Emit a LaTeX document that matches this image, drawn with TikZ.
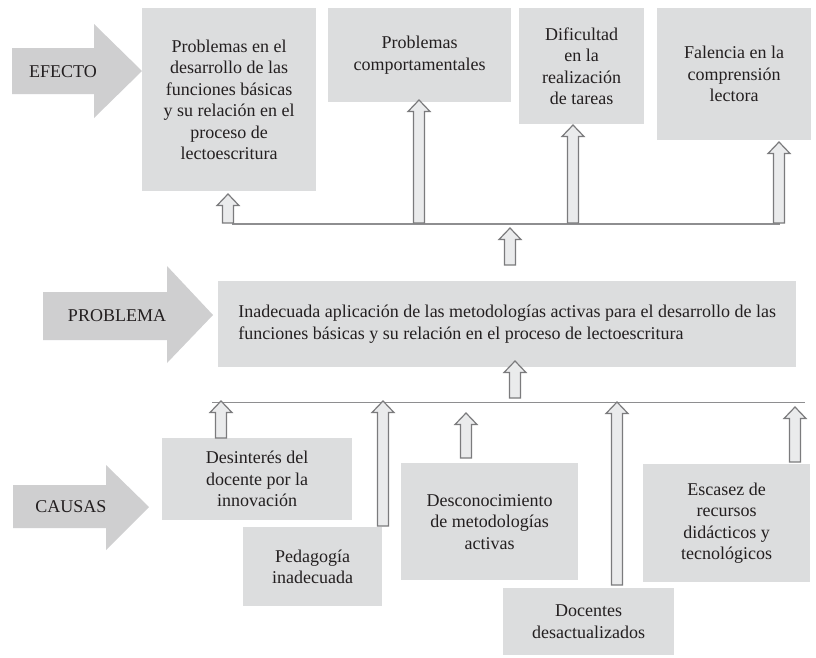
\documentclass[tikz,border=0pt]{standalone}
\usepackage{fontspec}
\setmainfont{Liberation Serif}
\usetikzlibrary{calc}

\definecolor{boxgray}{HTML}{DCDDDE}
\definecolor{bigarrow}{HTML}{CFCFD0}
\definecolor{hollowfill}{HTML}{EAEBEC}
\definecolor{hollowline}{HTML}{7B7B7D}
\definecolor{busline}{HTML}{8E8E90}
\definecolor{ink}{HTML}{231F20}

% block arrow pointing up, from #1 (foot) to #2 (tip)
\newcommand\hollowup[2]{%
  \filldraw[hollow] ($(#1)+(-5.5,0)$) -- ($(#2)+(-5.5,11.5)$) -- ($(#2)+(-11,11.5)$)
    -- (#2) -- ($(#2)+(11,11.5)$) -- ($(#2)+(5.5,11.5)$) -- ($(#1)+(5.5,0)$) -- cycle;}

\tikzset{
  every node/.style={font=\fontsize{18}{21.5}\selectfont, text=ink},
  cell/.style={fill=boxgray, anchor=north west, align=center, inner sep=0pt},
  tag/.style={inner sep=0pt},
  bigshape/.style={fill=bigarrow},
  hollow/.style={fill=hollowfill, draw=hollowline, line width=1.2pt, line join=miter},
  bus/.style={draw=busline, line width=1.2pt},
}

\begin{document}
\begin{tikzpicture}[x=1pt, y=-1pt]
\useasboundingbox (0,0) rectangle (816,657);
\fill[white] (0,0) rectangle (816,657);

% row labels
\fill[bigshape] (12,48) -- (94,48) -- (94,24) -- (142,71) -- (94,118) -- (94,94) -- (12,94) -- cycle;
\node[tag] (efecto) at (63,72) {EFECTO};
\fill[bigshape] (43,292) -- (167,292) -- (167,266) -- (213,315) -- (167,363) -- (167,340) -- (43,340) -- cycle;
\node[tag] (problema) at (117,316) {PROBLEMA};
\fill[bigshape] (13,485) -- (106,485) -- (106,465) -- (149,507) -- (106,550) -- (106,528) -- (13,528) -- cycle;
\node[tag] (causas) at (71,507) {CAUSAS};

% effects
\node[cell, minimum width=174, minimum height=183] (ef1) at (142,8)
  {Problemas en el\\desarrollo de las\\funciones básicas\\y su relación en el\\proceso de\\lectoescritura};
\node[cell, minimum width=183, minimum height=94] (ef2) at (328,8)
  {Problemas\\comportamentales};
\node[cell, minimum width=125, minimum height=116] (ef3) at (519,8)
  {Dificultad\\en la\\realización\\de tareas};
\node[cell, minimum width=154, minimum height=132] (ef4) at (657,8)
  {Falencia en la\\comprensión\\lectora};

% central problem
\node[cell, align=left, minimum width=578, minimum height=86] (prob) at (218,281)
  {Inadecuada aplicación de las metodologías activas para el desarrollo de las\\funciones básicas y su relación en el proceso de lectoescritura};

% causes
\node[cell, minimum width=190, minimum height=82] (ca1) at (162,438)
  {Desinterés del\\docente por la\\innovación};
\node[cell, minimum width=139, minimum height=79] (ca2) at (243,527)
  {Pedagogía\\inadecuada};
\node[cell, minimum width=177, minimum height=117] (ca3) at (401,463)
  {Desconocimiento\\de metodologías\\activas};
\node[cell, minimum width=171, minimum height=67] (ca4) at (503,588)
  {Docentes\\desactualizados};
\node[cell, minimum width=167, minimum height=118] (ca5) at (643,464)
  {Escasez de\\recursos\\didácticos y\\tecnológicos};

% collecting lines
\coordinate (ebusL) at (232,224);
\coordinate (ebusR) at (780,224);
\coordinate (cbusL) at (212,402.5);
\coordinate (cbusR) at (805,402.5);
\draw[bus] (ebusL) -- (ebusR);
\draw[bus] (cbusL) -- (cbusR);

% arrows into the effects
\coordinate (e1f) at (228,223); \coordinate (e1t) at (228,194);
\coordinate (e2f) at (419,223); \coordinate (e2t) at (419,100);
\coordinate (e3f) at (573,223); \coordinate (e3t) at (573,125);
\coordinate (e4f) at (779,223); \coordinate (e4t) at (779,142);
\hollowup{e1f}{e1t}
\hollowup{e2f}{e2t}
\hollowup{e3f}{e3t}
\hollowup{e4f}{e4t}

% problem up to the effects, causes up to the problem
\coordinate (pf) at (510,265); \coordinate (pt) at (510,228);
\hollowup{pf}{pt}
\coordinate (qf) at (515,398); \coordinate (qt) at (515,361);
\hollowup{qf}{qt}

% arrows out of the causes
\coordinate (c1f) at (221,438); \coordinate (c1t) at (221,401);
\coordinate (c2f) at (383,526); \coordinate (c2t) at (383,401);
\coordinate (c3f) at (466,458); \coordinate (c3t) at (466,413);
\coordinate (c4f) at (617,585); \coordinate (c4t) at (617,402);
\coordinate (c5f) at (795,462); \coordinate (c5t) at (795,407);
\hollowup{c1f}{c1t}
\hollowup{c2f}{c2t}
\hollowup{c3f}{c3t}
\hollowup{c4f}{c4t}
\hollowup{c5f}{c5t}
\end{tikzpicture}
\end{document}
